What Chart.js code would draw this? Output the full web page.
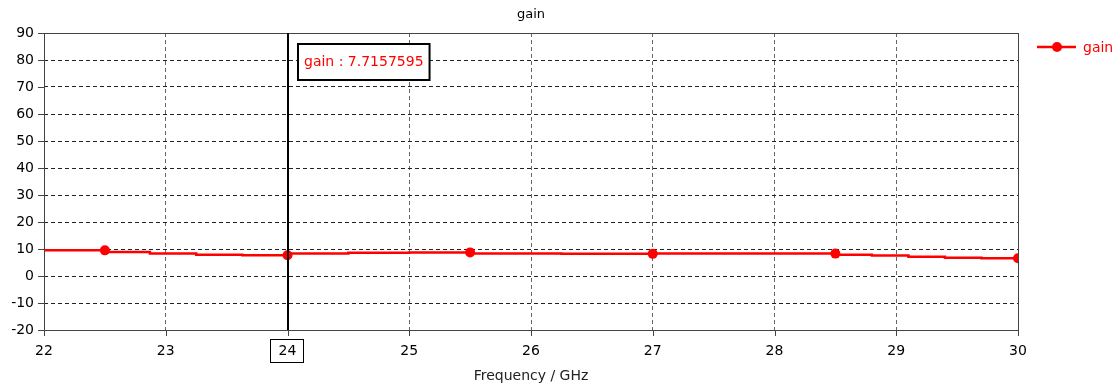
<html>
    <body style="margin:0; background:#fff;">
        <div style="width:1118px; height:387px;">
            <canvas id="myChart" width="1118" height="387"></canvas>
        </div>
    </body>

    <script src="https://cdn.jsdelivr.net/npm/chart.js@4.4.1/dist/chart.umd.min.js"></script>
    <script>
        // frequency (GHz) and gain
        const freq = [22, 22.5, 22.87, 23.25, 23.63, 24, 24.5, 25, 25.5, 26.25, 27, 28.5, 28.8, 29.1, 29.4, 29.7, 30];
        const gain = [9.3, 9.5, 8.9, 8.3, 7.9, 7.7157595, 8.3, 8.6, 8.75, 8.3, 8.2, 8.3, 7.9, 7.55, 7.15, 6.75, 6.6];
        const markerFreq = [22.5, 24, 25.5, 27, 28.5, 30];
        const cursorFreq = 24;
        const seriesName = 'gain';
        const xLabel = 'Frequency / GHz';

        const FONT = 'DejaVu Sans';
        const red = '#ff0000';

        const points = freq.map((f, i) => ({x: f, y: gain[i]}));
        const radii = freq.map(f => markerFreq.includes(f) ? 5 : 0);

        const extras = {
            id: 'extras',
            afterDraw: (chart) => {
                const ctx = chart.ctx;
                const area = chart.chartArea;
                const xs = chart.scales.x;
                const ys = chart.scales.y;
                ctx.save();

                // frame
                ctx.strokeStyle = '#444';
                ctx.lineWidth = 1;
                ctx.strokeRect(area.left + 0.5, area.top + 0.5, area.right - area.left, area.bottom - area.top);

                // tick marks
                ctx.beginPath();
                ys.ticks.forEach(t => {
                    const py = Math.round(ys.getPixelForValue(t.value)) + 0.5;
                    ctx.moveTo(area.left - 6, py);
                    ctx.lineTo(area.left, py);
                });
                xs.ticks.forEach(t => {
                    const px = Math.round(xs.getPixelForValue(t.value)) + 0.5;
                    ctx.moveTo(px, area.bottom);
                    ctx.lineTo(px, area.bottom + 6);
                });
                ctx.stroke();

                // title
                ctx.fillStyle = '#000';
                ctx.font = '13px "' + FONT + '"';
                ctx.textAlign = 'center';
                ctx.textBaseline = 'middle';
                ctx.fillText(seriesName, (area.left + area.right) / 2, 15);

                // cursor line
                const cx = Math.round(xs.getPixelForValue(cursorFreq));
                ctx.strokeStyle = '#000';
                ctx.lineWidth = 2;
                ctx.beginPath();
                ctx.moveTo(cx, area.top);
                ctx.lineTo(cx, area.bottom);
                ctx.stroke();

                // box round the cursor tick label
                ctx.lineWidth = 1;
                ctx.strokeRect(cx - 17.5, area.bottom + 9.5, 33, 23);

                // value box
                const val = gain[freq.indexOf(cursorFreq)];
                const txt = seriesName + ' : ' + val;
                ctx.font = '14px "' + FONT + '"';
                const w = ctx.measureText(txt).width + 12;
                ctx.fillStyle = '#fff';
                ctx.fillRect(cx + 10, 44, w, 36);
                ctx.lineWidth = 2;
                ctx.strokeRect(cx + 10, 44, w, 36);
                ctx.fillStyle = red;
                ctx.textAlign = 'left';
                ctx.fillText(txt, cx + 16, 62);

                // legend
                const ly = 47;
                ctx.strokeStyle = red;
                ctx.lineWidth = 2.5;
                ctx.beginPath();
                ctx.moveTo(area.right + 19, ly);
                ctx.lineTo(area.right + 58, ly);
                ctx.stroke();
                ctx.fillStyle = red;
                ctx.beginPath();
                ctx.arc(area.right + 39, ly, 5, 0, Math.PI * 2);
                ctx.fill();
                ctx.font = '14px "' + FONT + '"';
                ctx.fillText(seriesName, area.right + 65, ly + 1);
                ctx.restore();
            }
        };

        const config = {
            type: 'line',
            data: {
                datasets: [{
                    label: seriesName,
                    data: points,
                    borderColor: red,
                    backgroundColor: red,
                    borderWidth: 2.5,
                    stepped: 'after',
                    pointRadius: radii,
                    pointHoverRadius: radii,
                    pointBorderWidth: 0
                }]
            },
            options: {
                responsive: false,
                animation: false,
                layout: {padding: {top: 33, right: 100, left: 0, bottom: 0}},
                plugins: {
                    legend: {display: false},
                    title: {display: false},
                    tooltip: {enabled: false}
                },
                scales: {
                    x: {
                        type: 'linear',
                        min: 22,
                        max: 30,
                        afterFit: (s) => { s.height = 57; },
                        ticks: {
                            stepSize: 1,
                            padding: 13,
                            color: '#000',
                            font: {family: FONT, size: 14}
                        },
                        grid: {color: '#666', drawTicks: false, lineWidth: 1},
                        border: {display: false, dash: [4, 3]},
                        title: {
                            display: true,
                            text: xLabel,
                            color: '#222',
                            font: {family: FONT, size: 14},
                            padding: {top: 0, bottom: 2}
                        }
                    },
                    y: {
                        min: -20,
                        max: 90,
                        afterFit: (s) => { s.width = 44; },
                        ticks: {
                            stepSize: 10,
                            padding: 10,
                            color: '#000',
                            font: {family: FONT, size: 14}
                        },
                        grid: {color: '#222', drawTicks: false, lineWidth: 1},
                        border: {display: false, dash: [4, 3]}
                    }
                }
            },
            plugins: [extras]
        };
        var ctx = document.getElementById('myChart').getContext('2d');
        var myChart = new Chart(ctx, config);
    </script>
</html>
